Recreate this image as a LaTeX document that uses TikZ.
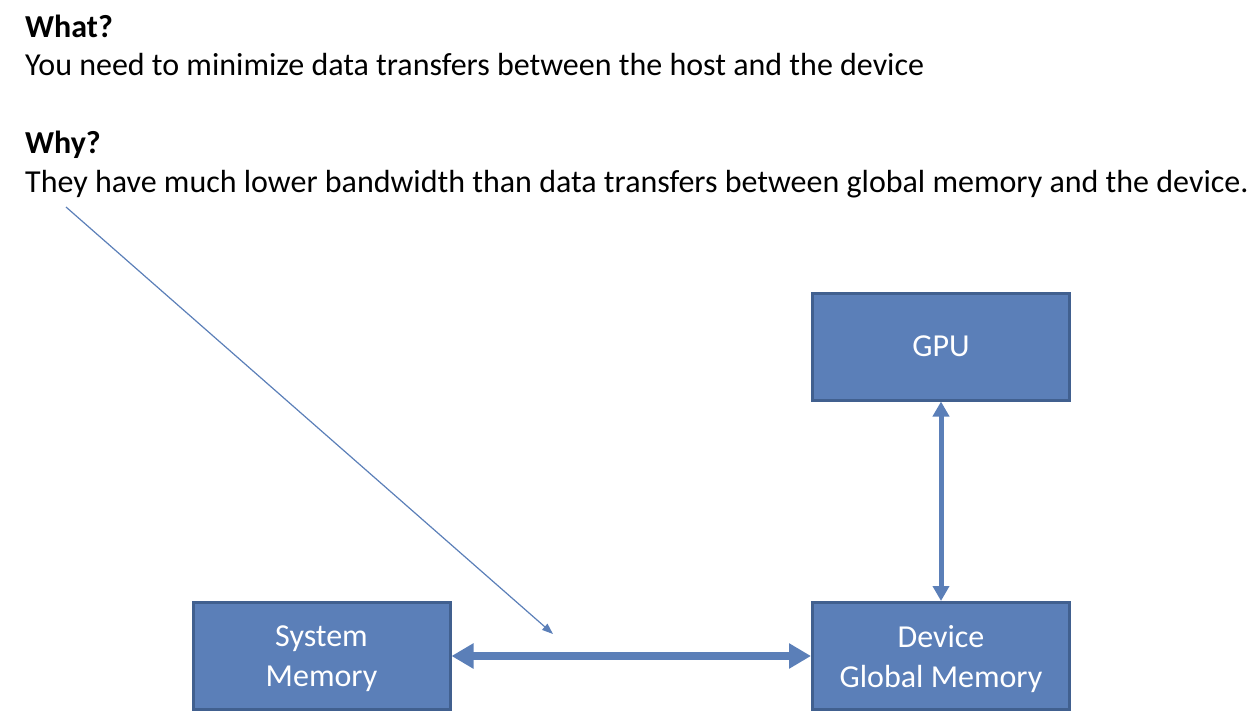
\documentclass[tikz,border=0pt]{standalone}
\usepackage{fontspec}
\setmainfont{Carlito}
\usepackage{xcolor}
\usepackage{tikz}
\usetikzlibrary{arrows.meta}

\definecolor{boxfill}{RGB}{91,127,184}
\definecolor{boxline}{RGB}{65,96,143}

\tikzset{
  membox/.style={draw=boxline, line width=3pt, fill=boxfill, text=white,
    minimum width=257pt, minimum height=107pt, align=center, text depth=0pt,
    font=\fontsize{32}{40}\selectfont},
  txt/.style={anchor=base west, inner sep=0pt, font=\fontsize{32}{38}\selectfont}
}

\begin{document}
\begin{tikzpicture}[x=1pt,y=-1pt]
\useasboundingbox (0,0) rectangle (1258,728);

\node[txt] (what) at (25,37) {\textbf{What?}};
\node[txt] (whatline) at (25,75) {You need to minimize data transfers between the host and the device};
\node[txt] (why) at (25,153) {\textbf{Why?}};
\node[txt] (whyline) at (25,192) {They have much lower bandwidth than data transfers between global memory and the device.};

\node[membox] (gpu) at (941,346.5) {GPU};
\node[membox] (sysmem) at (321.5,656) {System\\Memory};
\node[membox] (devmem) at (941,656) {Device\\Global Memory};

\draw[boxfill, line width=8pt, {Triangle[width=24pt,length=22pt]}-{Triangle[width=24pt,length=22pt]}] (sysmem.east) -- (devmem.west);
\draw[boxfill, line width=5pt, {Triangle[width=16pt,length=15pt]}-{Triangle[width=16pt,length=15pt]}] (gpu.south) -- (devmem.north);

\coordinate (from) at (66,207);
\coordinate (to) at (553,634);
\draw[boxfill, line width=1.2pt, -{Triangle[width=8pt,length=11pt]}] (from) -- (to);
\end{tikzpicture}
\end{document}
